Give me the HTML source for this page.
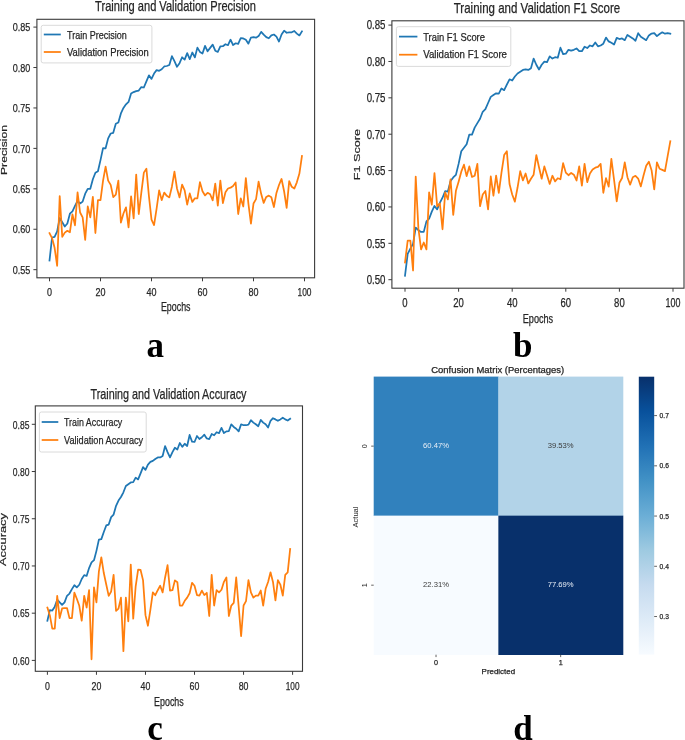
<!DOCTYPE html>
<html><head><meta charset="utf-8"><style>
html,body{margin:0;padding:0;background:#fff;}
body{width:685px;height:740px;overflow:hidden;font-family:"Liberation Sans", sans-serif;}
svg{display:block;filter:blur(0.3px);}
</style></head><body>
<svg width="685" height="740" viewBox="0 0 685 740" font-family='"Liberation Sans", sans-serif'>
<rect width="685" height="740" fill="#fff"/>
<polyline points="49.50,260.54 52.05,237.50 54.60,236.85 57.15,231.35 59.70,218.01 62.25,222.30 64.80,226.50 67.35,223.51 69.90,213.72 72.45,211.30 75.00,205.88 77.55,201.03 80.10,203.46 82.65,201.60 85.20,193.67 87.75,188.82 90.30,188.82 92.85,179.28 95.40,172.73 97.95,171.27 100.50,160.11 103.05,148.07 105.60,148.31 108.15,138.36 110.70,133.51 113.25,132.86 115.80,123.73 118.35,122.51 120.90,113.46 123.45,107.96 126.00,104.32 128.55,101.90 131.10,93.57 133.65,92.11 136.20,91.14 138.75,90.58 141.30,87.10 143.85,87.50 146.40,81.36 148.95,75.29 151.50,78.93 154.05,73.51 156.60,70.12 159.15,70.85 161.70,69.23 164.25,66.48 166.80,65.99 169.35,65.02 171.90,56.21 174.45,61.06 177.00,66.80 179.55,63.16 182.10,57.26 184.65,59.69 187.20,53.14 189.75,59.20 192.30,52.49 194.85,57.42 197.40,47.64 199.95,51.92 202.50,53.46 205.05,45.86 207.60,51.28 210.15,47.88 212.70,44.65 215.25,50.71 217.80,51.92 220.35,46.43 222.90,46.18 225.45,44.24 228.00,45.21 230.55,39.71 233.10,45.05 235.65,43.27 238.20,43.84 240.75,38.02 243.30,38.42 245.85,39.80 248.40,43.68 250.95,37.53 253.50,37.13 256.05,37.69 258.60,36.08 261.15,31.87 263.70,34.70 266.25,37.13 268.80,38.26 271.35,35.43 273.90,34.54 276.45,36.64 279.00,41.57 281.55,34.54 284.10,30.66 286.65,32.76 289.20,32.28 291.75,32.28 294.30,30.98 296.85,33.65 299.40,35.43 301.95,31.39" fill="none" stroke="#1f77b4" stroke-width="1.75" stroke-linejoin="round" stroke-linecap="square"/>
<polyline points="49.50,233.21 52.05,238.06 54.60,247.77 57.15,265.80 59.70,196.10 62.25,236.85 64.80,232.65 67.35,230.79 69.90,232.24 72.45,214.37 75.00,225.29 77.55,192.46 80.10,212.51 82.65,217.44 85.20,239.92 87.75,206.45 90.30,217.28 92.85,196.91 95.40,233.05 97.95,200.06 100.50,200.06 103.05,180.65 105.60,166.66 108.15,180.65 110.70,184.86 113.25,197.07 115.80,194.64 118.35,180.65 120.90,222.62 123.45,213.48 126.00,207.42 128.55,227.47 131.10,196.42 133.65,218.33 136.20,174.51 138.75,214.05 141.30,192.78 143.85,172.65 146.40,168.69 148.95,196.42 151.50,219.55 154.05,225.05 156.60,208.63 159.15,190.36 161.70,200.14 164.25,192.54 166.80,195.85 169.35,197.39 171.90,186.72 174.45,171.52 177.00,188.50 179.55,197.39 182.10,184.62 184.65,190.36 187.20,204.67 189.75,193.43 192.30,201.92 194.85,198.28 197.40,198.28 199.95,182.11 202.50,191.33 205.05,195.45 207.60,192.78 210.15,194.24 212.70,200.30 215.25,183.64 217.80,205.56 220.35,180.65 222.90,203.13 225.45,192.22 228.00,188.50 230.55,187.69 233.10,185.99 235.65,182.51 238.20,214.05 240.75,198.28 243.30,206.53 245.85,178.07 248.40,203.54 250.95,223.67 253.50,203.54 256.05,199.17 258.60,181.62 261.15,193.83 263.70,202.89 266.25,196.91 268.80,195.61 271.35,197.31 273.90,207.01 276.45,192.94 279.00,185.02 281.55,178.96 284.10,191.25 286.65,207.90 289.20,181.06 291.75,186.80 294.30,188.58 296.85,182.35 299.40,173.62 301.95,156.07" fill="none" stroke="#ff7f0e" stroke-width="1.75" stroke-linejoin="round" stroke-linecap="square"/>
<rect x="41.2" y="25.3" width="110.70" height="37.60" rx="2" ry="2" fill="#fff" fill-opacity="0.8" stroke="#d6d6d6" stroke-width="0.9"/>
<line x1="43.8" y1="34.5" x2="60.8" y2="34.5" stroke="#1f77b4" stroke-width="1.75"/>
<line x1="43.8" y1="52.0" x2="60.8" y2="52.0" stroke="#ff7f0e" stroke-width="1.75"/>
<text x="67.00" y="38.90" font-size="11.6" text-anchor="start" fill="#262626" stroke="#262626" stroke-width="0.25" textLength="59.80" lengthAdjust="spacingAndGlyphs">Train Precision</text>
<text x="67.00" y="55.90" font-size="11.6" text-anchor="start" fill="#262626" stroke="#262626" stroke-width="0.25" textLength="81.80" lengthAdjust="spacingAndGlyphs">Validation Precision</text>
<rect x="36.9" y="19.3" width="277.70" height="258.50" fill="none" stroke="#3a3a3a" stroke-width="1.1"/>
<line x1="33.40" y1="269.68" x2="36.9" y2="269.68" stroke="#3a3a3a" stroke-width="1"/>
<text x="30.40" y="273.88" font-size="11.8" text-anchor="end" fill="#262626" stroke="#262626" stroke-width="0.25" textLength="17.60" lengthAdjust="spacingAndGlyphs">0.55</text>
<line x1="33.40" y1="229.25" x2="36.9" y2="229.25" stroke="#3a3a3a" stroke-width="1"/>
<text x="30.40" y="233.45" font-size="11.8" text-anchor="end" fill="#262626" stroke="#262626" stroke-width="0.25" textLength="17.60" lengthAdjust="spacingAndGlyphs">0.60</text>
<line x1="33.40" y1="188.82" x2="36.9" y2="188.82" stroke="#3a3a3a" stroke-width="1"/>
<text x="30.40" y="193.02" font-size="11.8" text-anchor="end" fill="#262626" stroke="#262626" stroke-width="0.25" textLength="17.60" lengthAdjust="spacingAndGlyphs">0.65</text>
<line x1="33.40" y1="148.39" x2="36.9" y2="148.39" stroke="#3a3a3a" stroke-width="1"/>
<text x="30.40" y="152.59" font-size="11.8" text-anchor="end" fill="#262626" stroke="#262626" stroke-width="0.25" textLength="17.60" lengthAdjust="spacingAndGlyphs">0.70</text>
<line x1="33.40" y1="107.96" x2="36.9" y2="107.96" stroke="#3a3a3a" stroke-width="1"/>
<text x="30.40" y="112.16" font-size="11.8" text-anchor="end" fill="#262626" stroke="#262626" stroke-width="0.25" textLength="17.60" lengthAdjust="spacingAndGlyphs">0.75</text>
<line x1="33.40" y1="67.53" x2="36.9" y2="67.53" stroke="#3a3a3a" stroke-width="1"/>
<text x="30.40" y="71.73" font-size="11.8" text-anchor="end" fill="#262626" stroke="#262626" stroke-width="0.25" textLength="17.60" lengthAdjust="spacingAndGlyphs">0.80</text>
<line x1="33.40" y1="27.10" x2="36.9" y2="27.10" stroke="#3a3a3a" stroke-width="1"/>
<text x="30.40" y="31.30" font-size="11.8" text-anchor="end" fill="#262626" stroke="#262626" stroke-width="0.25" textLength="17.60" lengthAdjust="spacingAndGlyphs">0.85</text>
<line x1="49.50" y1="277.8" x2="49.50" y2="281.30" stroke="#3a3a3a" stroke-width="1"/>
<text x="49.50" y="295.60" font-size="11.8" text-anchor="middle" fill="#262626" stroke="#262626" stroke-width="0.25" textLength="5.00" lengthAdjust="spacingAndGlyphs">0</text>
<line x1="100.50" y1="277.8" x2="100.50" y2="281.30" stroke="#3a3a3a" stroke-width="1"/>
<text x="100.50" y="295.60" font-size="11.8" text-anchor="middle" fill="#262626" stroke="#262626" stroke-width="0.25" textLength="10.00" lengthAdjust="spacingAndGlyphs">20</text>
<line x1="151.50" y1="277.8" x2="151.50" y2="281.30" stroke="#3a3a3a" stroke-width="1"/>
<text x="151.50" y="295.60" font-size="11.8" text-anchor="middle" fill="#262626" stroke="#262626" stroke-width="0.25" textLength="10.00" lengthAdjust="spacingAndGlyphs">40</text>
<line x1="202.50" y1="277.8" x2="202.50" y2="281.30" stroke="#3a3a3a" stroke-width="1"/>
<text x="202.50" y="295.60" font-size="11.8" text-anchor="middle" fill="#262626" stroke="#262626" stroke-width="0.25" textLength="10.00" lengthAdjust="spacingAndGlyphs">60</text>
<line x1="253.50" y1="277.8" x2="253.50" y2="281.30" stroke="#3a3a3a" stroke-width="1"/>
<text x="253.50" y="295.60" font-size="11.8" text-anchor="middle" fill="#262626" stroke="#262626" stroke-width="0.25" textLength="10.00" lengthAdjust="spacingAndGlyphs">80</text>
<line x1="304.50" y1="277.8" x2="304.50" y2="281.30" stroke="#3a3a3a" stroke-width="1"/>
<text x="304.50" y="295.60" font-size="11.8" text-anchor="middle" fill="#262626" stroke="#262626" stroke-width="0.25" textLength="14.00" lengthAdjust="spacingAndGlyphs">100</text>
<text x="175.75" y="311.20" font-size="12" text-anchor="middle" fill="#262626" stroke="#262626" stroke-width="0.25" textLength="29.60" lengthAdjust="spacingAndGlyphs">Epochs</text>
<g transform="translate(7.00,150.00) scale(0.72,1) rotate(-90)"><text x="0" y="0" font-size="12" text-anchor="middle" fill="#262626" stroke="#262626" stroke-width="0.25" textLength="50.00" lengthAdjust="spacingAndGlyphs">Precision</text></g>
<text x="175.50" y="11.40" font-size="14.5" text-anchor="middle" fill="#262626" stroke="#262626" stroke-width="0.25" textLength="160.80" lengthAdjust="spacingAndGlyphs">Training and Validation Precision</text>
<polyline points="405.00,275.76 407.68,253.79 410.36,248.56 413.04,243.83 415.72,227.54 418.40,230.15 421.08,231.90 423.76,231.90 426.44,221.35 429.12,218.73 431.80,211.68 434.48,205.93 437.16,209.42 439.84,202.95 442.52,197.71 445.20,191.17 447.88,191.53 450.56,180.98 453.24,177.49 455.92,174.87 458.60,163.89 461.28,151.23 463.96,147.74 466.64,144.25 469.32,134.57 472.00,134.57 474.68,127.59 477.36,123.15 480.04,118.79 482.72,111.81 485.40,109.11 488.08,103.00 490.76,96.89 493.44,95.08 496.12,93.33 498.80,93.69 501.48,88.46 504.16,90.20 506.84,84.60 509.52,79.29 512.20,80.53 514.88,76.53 517.56,73.54 520.24,71.80 522.92,69.98 525.60,69.47 528.28,69.98 530.96,68.23 533.64,58.56 536.32,64.74 539.00,69.47 541.68,64.74 544.36,61.62 547.04,62.12 549.72,56.31 552.40,58.56 555.08,57.18 557.76,57.76 560.44,47.72 563.12,54.20 565.80,53.69 568.48,49.83 571.16,50.70 573.84,49.83 576.52,48.45 579.20,51.21 581.88,51.21 584.56,46.70 587.24,48.09 589.92,45.47 592.60,46.34 595.28,42.48 597.96,46.34 600.64,45.47 603.32,43.72 606.00,37.54 608.68,41.39 611.36,42.85 614.04,44.59 616.72,37.90 619.40,39.07 622.08,38.41 624.76,40.16 627.44,34.92 630.12,36.67 632.80,38.41 635.48,40.74 638.16,33.17 640.84,36.67 643.52,38.41 646.20,40.16 648.88,35.43 651.56,33.54 654.24,33.17 656.92,36.16 659.60,34.05 662.28,32.30 664.96,33.68 667.64,33.17 670.32,33.68" fill="none" stroke="#1f77b4" stroke-width="1.75" stroke-linejoin="round" stroke-linecap="square"/>
<polyline points="405.00,262.60 407.68,240.70 410.36,240.70 413.04,270.52 415.72,176.62 418.40,228.41 421.08,249.43 423.76,242.45 426.44,249.43 429.12,192.40 431.80,204.70 434.48,173.13 437.16,206.44 439.84,203.46 442.52,229.28 445.20,192.40 447.88,199.46 450.56,179.31 453.24,214.95 455.92,190.80 458.60,181.64 461.28,171.67 463.96,164.69 466.64,176.11 469.32,166.43 472.00,176.98 474.68,175.74 477.36,163.82 480.04,206.22 482.72,194.51 485.40,191.02 488.08,209.42 490.76,176.47 493.44,195.75 496.12,175.74 498.80,192.77 501.48,172.62 504.16,155.01 506.84,151.16 509.52,183.96 512.20,194.51 514.88,201.57 517.56,187.53 520.24,171.16 522.92,180.47 525.60,173.49 528.28,183.45 530.96,178.73 533.64,174.73 536.32,155.01 539.00,167.31 541.68,178.73 544.36,166.43 547.04,175.24 549.72,183.96 552.40,175.74 555.08,181.35 557.76,178.22 560.44,179.24 563.12,163.23 565.80,172.62 568.48,175.24 571.16,172.91 573.84,174.73 576.52,180.47 579.20,166.43 581.88,185.71 584.56,163.82 587.24,182.22 589.92,173.49 592.60,169.42 595.28,167.67 597.96,166.94 600.64,163.82 603.32,192.77 606.00,178.22 608.68,186.58 611.36,158.87 614.04,179.60 616.72,201.28 619.40,182.80 622.08,178.00 624.76,162.29 627.44,177.20 630.12,184.62 632.80,177.20 635.48,175.82 638.16,178.58 640.84,186.36 643.52,175.45 646.20,165.78 648.88,161.78 651.56,170.22 654.24,189.49 656.92,162.29 659.60,168.76 662.28,169.85 664.96,171.09 667.64,156.18 670.32,141.27" fill="none" stroke="#ff7f0e" stroke-width="1.75" stroke-linejoin="round" stroke-linecap="square"/>
<rect x="396.4" y="26.7" width="114.40" height="39.70" rx="2" ry="2" fill="#fff" fill-opacity="0.8" stroke="#d6d6d6" stroke-width="0.9"/>
<line x1="399.0" y1="36.6" x2="417.4" y2="36.6" stroke="#1f77b4" stroke-width="1.75"/>
<line x1="399.0" y1="54.7" x2="417.4" y2="54.7" stroke="#ff7f0e" stroke-width="1.75"/>
<text x="423.20" y="41.00" font-size="11.8" text-anchor="start" fill="#262626" stroke="#262626" stroke-width="0.25" textLength="61.80" lengthAdjust="spacingAndGlyphs">Train F1 Score</text>
<text x="423.20" y="58.20" font-size="11.8" text-anchor="start" fill="#262626" stroke="#262626" stroke-width="0.25" textLength="83.80" lengthAdjust="spacingAndGlyphs">Validation F1 Score</text>
<rect x="391.9" y="20.8" width="292.10" height="267.40" fill="none" stroke="#3a3a3a" stroke-width="1.1"/>
<line x1="388.40" y1="279.69" x2="391.9" y2="279.69" stroke="#3a3a3a" stroke-width="1"/>
<text x="385.50" y="283.99" font-size="12" text-anchor="end" fill="#262626" stroke="#262626" stroke-width="0.25" textLength="18.80" lengthAdjust="spacingAndGlyphs">0.50</text>
<line x1="388.40" y1="243.32" x2="391.9" y2="243.32" stroke="#3a3a3a" stroke-width="1"/>
<text x="385.50" y="247.62" font-size="12" text-anchor="end" fill="#262626" stroke="#262626" stroke-width="0.25" textLength="18.80" lengthAdjust="spacingAndGlyphs">0.55</text>
<line x1="388.40" y1="206.95" x2="391.9" y2="206.95" stroke="#3a3a3a" stroke-width="1"/>
<text x="385.50" y="211.25" font-size="12" text-anchor="end" fill="#262626" stroke="#262626" stroke-width="0.25" textLength="18.80" lengthAdjust="spacingAndGlyphs">0.60</text>
<line x1="388.40" y1="170.58" x2="391.9" y2="170.58" stroke="#3a3a3a" stroke-width="1"/>
<text x="385.50" y="174.88" font-size="12" text-anchor="end" fill="#262626" stroke="#262626" stroke-width="0.25" textLength="18.80" lengthAdjust="spacingAndGlyphs">0.65</text>
<line x1="388.40" y1="134.21" x2="391.9" y2="134.21" stroke="#3a3a3a" stroke-width="1"/>
<text x="385.50" y="138.51" font-size="12" text-anchor="end" fill="#262626" stroke="#262626" stroke-width="0.25" textLength="18.80" lengthAdjust="spacingAndGlyphs">0.70</text>
<line x1="388.40" y1="97.84" x2="391.9" y2="97.84" stroke="#3a3a3a" stroke-width="1"/>
<text x="385.50" y="102.14" font-size="12" text-anchor="end" fill="#262626" stroke="#262626" stroke-width="0.25" textLength="18.80" lengthAdjust="spacingAndGlyphs">0.75</text>
<line x1="388.40" y1="61.47" x2="391.9" y2="61.47" stroke="#3a3a3a" stroke-width="1"/>
<text x="385.50" y="65.77" font-size="12" text-anchor="end" fill="#262626" stroke="#262626" stroke-width="0.25" textLength="18.80" lengthAdjust="spacingAndGlyphs">0.80</text>
<line x1="388.40" y1="25.10" x2="391.9" y2="25.10" stroke="#3a3a3a" stroke-width="1"/>
<text x="385.50" y="29.40" font-size="12" text-anchor="end" fill="#262626" stroke="#262626" stroke-width="0.25" textLength="18.80" lengthAdjust="spacingAndGlyphs">0.85</text>
<line x1="405.00" y1="288.2" x2="405.00" y2="291.70" stroke="#3a3a3a" stroke-width="1"/>
<text x="405.00" y="306.50" font-size="12" text-anchor="middle" fill="#262626" stroke="#262626" stroke-width="0.25" textLength="5.30" lengthAdjust="spacingAndGlyphs">0</text>
<line x1="458.60" y1="288.2" x2="458.60" y2="291.70" stroke="#3a3a3a" stroke-width="1"/>
<text x="458.60" y="306.50" font-size="12" text-anchor="middle" fill="#262626" stroke="#262626" stroke-width="0.25" textLength="10.60" lengthAdjust="spacingAndGlyphs">20</text>
<line x1="512.20" y1="288.2" x2="512.20" y2="291.70" stroke="#3a3a3a" stroke-width="1"/>
<text x="512.20" y="306.50" font-size="12" text-anchor="middle" fill="#262626" stroke="#262626" stroke-width="0.25" textLength="10.60" lengthAdjust="spacingAndGlyphs">40</text>
<line x1="565.80" y1="288.2" x2="565.80" y2="291.70" stroke="#3a3a3a" stroke-width="1"/>
<text x="565.80" y="306.50" font-size="12" text-anchor="middle" fill="#262626" stroke="#262626" stroke-width="0.25" textLength="10.60" lengthAdjust="spacingAndGlyphs">60</text>
<line x1="619.40" y1="288.2" x2="619.40" y2="291.70" stroke="#3a3a3a" stroke-width="1"/>
<text x="619.40" y="306.50" font-size="12" text-anchor="middle" fill="#262626" stroke="#262626" stroke-width="0.25" textLength="10.60" lengthAdjust="spacingAndGlyphs">80</text>
<line x1="673.00" y1="288.2" x2="673.00" y2="291.70" stroke="#3a3a3a" stroke-width="1"/>
<text x="673.00" y="306.50" font-size="12" text-anchor="middle" fill="#262626" stroke="#262626" stroke-width="0.25" textLength="14.84" lengthAdjust="spacingAndGlyphs">100</text>
<text x="537.95" y="323.10" font-size="12" text-anchor="middle" fill="#262626" stroke="#262626" stroke-width="0.25" textLength="30.40" lengthAdjust="spacingAndGlyphs">Epochs</text>
<g transform="translate(359.60,154.60) scale(0.72,1) rotate(-90)"><text x="0" y="0" font-size="12" text-anchor="middle" fill="#262626" stroke="#262626" stroke-width="0.25" textLength="51.40" lengthAdjust="spacingAndGlyphs">F1 Score</text></g>
<text x="537.00" y="13.10" font-size="14.6" text-anchor="middle" fill="#262626" stroke="#262626" stroke-width="0.25" textLength="166.50" lengthAdjust="spacingAndGlyphs">Training and Validation F1 Score</text>
<polyline points="47.40,620.74 49.85,610.16 52.30,610.54 54.76,606.66 57.21,599.68 59.66,602.32 62.11,604.87 64.56,602.32 67.02,595.80 69.47,593.54 71.92,589.10 74.37,585.23 76.82,587.40 79.28,584.75 81.73,578.99 84.18,575.12 86.63,575.97 89.08,568.04 91.54,562.47 93.99,560.20 96.44,550.85 98.89,539.61 101.34,539.14 103.80,532.06 106.25,525.45 108.70,524.60 111.15,517.13 113.60,514.58 116.06,505.80 118.51,500.51 120.96,497.02 123.41,492.30 125.86,485.97 128.32,484.17 130.77,482.48 133.22,482.10 135.67,477.66 138.12,479.45 140.58,473.31 143.03,467.18 145.48,469.82 147.93,464.53 150.38,461.89 152.84,460.85 155.29,458.96 157.74,457.45 160.19,457.45 162.64,456.03 165.10,446.02 167.55,452.16 170.00,457.45 172.45,452.16 174.90,447.72 177.36,449.52 179.81,443.00 182.26,446.87 184.71,443.75 187.16,446.02 189.62,434.97 192.07,441.58 194.52,441.96 196.97,436.01 199.42,439.03 201.88,437.24 204.33,434.69 206.78,438.47 209.23,439.03 211.68,434.03 214.14,435.26 216.59,432.23 219.04,433.08 221.49,427.89 223.94,433.08 226.40,431.38 228.85,431.01 231.30,424.30 233.75,426.94 236.20,428.74 238.66,431.38 241.11,424.30 243.56,425.24 246.01,425.24 248.46,424.68 250.92,420.24 253.37,422.60 255.82,424.30 258.27,426.28 260.72,419.96 263.18,422.60 265.63,424.30 268.08,427.51 270.53,420.81 272.98,418.16 275.44,419.39 277.89,420.81 280.34,419.39 282.79,417.69 285.24,419.39 287.70,420.52 290.15,418.73" fill="none" stroke="#1f77b4" stroke-width="1.75" stroke-linejoin="round" stroke-linecap="square"/>
<polyline points="47.40,607.51 49.85,615.45 52.30,628.57 54.76,628.57 57.21,595.80 59.66,618.09 62.11,608.46 64.56,608.08 67.02,608.08 69.47,618.09 71.92,618.09 74.37,592.59 76.82,598.73 79.28,605.81 81.73,620.74 84.18,595.80 86.63,607.51 89.08,590.04 91.54,659.27 93.99,587.40 96.44,602.32 98.89,571.34 101.34,557.27 103.80,573.04 106.25,584.47 108.70,595.90 111.15,591.46 113.60,574.84 116.06,610.82 118.51,608.55 120.96,597.60 123.41,651.14 125.86,597.60 128.32,621.30 130.77,564.64 133.22,618.66 135.67,586.26 138.12,569.55 140.58,569.93 143.03,580.13 145.48,615.16 147.93,625.74 150.38,609.87 152.84,592.40 155.29,595.24 157.74,590.23 160.19,585.70 162.64,592.40 165.10,577.48 167.55,565.20 170.00,590.61 172.45,590.23 174.90,580.41 177.36,582.20 179.81,605.53 182.26,605.53 184.71,600.81 187.16,597.60 189.62,593.25 192.07,582.77 194.52,585.70 196.97,595.05 199.42,595.52 201.88,590.61 204.33,595.05 206.78,592.78 209.23,616.01 211.68,574.84 214.14,605.53 216.59,590.23 219.04,592.40 221.49,589.76 223.94,581.83 226.40,577.48 228.85,616.01 231.30,605.53 233.75,602.89 236.20,577.48 238.66,606.38 241.11,636.22 243.56,605.53 246.01,601.19 248.46,580.13 250.92,592.40 253.37,597.69 255.82,595.61 258.27,595.61 260.72,590.51 263.18,605.62 265.63,588.81 268.08,581.92 270.53,572.29 272.98,581.92 275.44,600.34 277.89,580.13 280.34,584.56 282.79,595.61 285.24,574.84 287.70,572.29 290.15,548.96" fill="none" stroke="#ff7f0e" stroke-width="1.75" stroke-linejoin="round" stroke-linecap="square"/>
<rect x="39.4" y="412.0" width="106.80" height="40.00" rx="2" ry="2" fill="#fff" fill-opacity="0.8" stroke="#d6d6d6" stroke-width="0.9"/>
<line x1="41.7" y1="422.0" x2="58.3" y2="422.0" stroke="#1f77b4" stroke-width="1.75"/>
<line x1="41.7" y1="440.0" x2="58.3" y2="440.0" stroke="#ff7f0e" stroke-width="1.75"/>
<text x="64.00" y="425.70" font-size="11.8" text-anchor="start" fill="#262626" stroke="#262626" stroke-width="0.25" textLength="58.30" lengthAdjust="spacingAndGlyphs">Train Accuracy</text>
<text x="64.00" y="443.50" font-size="11.8" text-anchor="start" fill="#262626" stroke="#262626" stroke-width="0.25" textLength="79.20" lengthAdjust="spacingAndGlyphs">Validation Accuracy</text>
<rect x="35.3" y="405.9" width="267.20" height="265.40" fill="none" stroke="#3a3a3a" stroke-width="1.1"/>
<line x1="31.80" y1="660.40" x2="35.3" y2="660.40" stroke="#3a3a3a" stroke-width="1"/>
<text x="29.40" y="664.70" font-size="11.8" text-anchor="end" fill="#262626" stroke="#262626" stroke-width="0.25" textLength="16.60" lengthAdjust="spacingAndGlyphs">0.60</text>
<line x1="31.80" y1="613.18" x2="35.3" y2="613.18" stroke="#3a3a3a" stroke-width="1"/>
<text x="29.40" y="617.48" font-size="11.8" text-anchor="end" fill="#262626" stroke="#262626" stroke-width="0.25" textLength="16.60" lengthAdjust="spacingAndGlyphs">0.65</text>
<line x1="31.80" y1="565.96" x2="35.3" y2="565.96" stroke="#3a3a3a" stroke-width="1"/>
<text x="29.40" y="570.26" font-size="11.8" text-anchor="end" fill="#262626" stroke="#262626" stroke-width="0.25" textLength="16.60" lengthAdjust="spacingAndGlyphs">0.70</text>
<line x1="31.80" y1="518.74" x2="35.3" y2="518.74" stroke="#3a3a3a" stroke-width="1"/>
<text x="29.40" y="523.04" font-size="11.8" text-anchor="end" fill="#262626" stroke="#262626" stroke-width="0.25" textLength="16.60" lengthAdjust="spacingAndGlyphs">0.75</text>
<line x1="31.80" y1="471.52" x2="35.3" y2="471.52" stroke="#3a3a3a" stroke-width="1"/>
<text x="29.40" y="475.82" font-size="11.8" text-anchor="end" fill="#262626" stroke="#262626" stroke-width="0.25" textLength="16.60" lengthAdjust="spacingAndGlyphs">0.80</text>
<line x1="31.80" y1="424.30" x2="35.3" y2="424.30" stroke="#3a3a3a" stroke-width="1"/>
<text x="29.40" y="428.60" font-size="11.8" text-anchor="end" fill="#262626" stroke="#262626" stroke-width="0.25" textLength="16.60" lengthAdjust="spacingAndGlyphs">0.85</text>
<line x1="47.40" y1="671.3" x2="47.40" y2="674.80" stroke="#3a3a3a" stroke-width="1"/>
<text x="47.40" y="689.50" font-size="11.8" text-anchor="middle" fill="#262626" stroke="#262626" stroke-width="0.25" textLength="4.90" lengthAdjust="spacingAndGlyphs">0</text>
<line x1="96.44" y1="671.3" x2="96.44" y2="674.80" stroke="#3a3a3a" stroke-width="1"/>
<text x="96.44" y="689.50" font-size="11.8" text-anchor="middle" fill="#262626" stroke="#262626" stroke-width="0.25" textLength="9.80" lengthAdjust="spacingAndGlyphs">20</text>
<line x1="145.48" y1="671.3" x2="145.48" y2="674.80" stroke="#3a3a3a" stroke-width="1"/>
<text x="145.48" y="689.50" font-size="11.8" text-anchor="middle" fill="#262626" stroke="#262626" stroke-width="0.25" textLength="9.80" lengthAdjust="spacingAndGlyphs">40</text>
<line x1="194.52" y1="671.3" x2="194.52" y2="674.80" stroke="#3a3a3a" stroke-width="1"/>
<text x="194.52" y="689.50" font-size="11.8" text-anchor="middle" fill="#262626" stroke="#262626" stroke-width="0.25" textLength="9.80" lengthAdjust="spacingAndGlyphs">60</text>
<line x1="243.56" y1="671.3" x2="243.56" y2="674.80" stroke="#3a3a3a" stroke-width="1"/>
<text x="243.56" y="689.50" font-size="11.8" text-anchor="middle" fill="#262626" stroke="#262626" stroke-width="0.25" textLength="9.80" lengthAdjust="spacingAndGlyphs">80</text>
<line x1="292.60" y1="671.3" x2="292.60" y2="674.80" stroke="#3a3a3a" stroke-width="1"/>
<text x="292.60" y="689.50" font-size="11.8" text-anchor="middle" fill="#262626" stroke="#262626" stroke-width="0.25" textLength="13.72" lengthAdjust="spacingAndGlyphs">100</text>
<text x="168.90" y="705.90" font-size="12" text-anchor="middle" fill="#262626" stroke="#262626" stroke-width="0.25" textLength="29.60" lengthAdjust="spacingAndGlyphs">Epochs</text>
<g transform="translate(5.80,539.50) scale(0.72,1) rotate(-90)"><text x="0" y="0" font-size="12" text-anchor="middle" fill="#262626" stroke="#262626" stroke-width="0.25" textLength="53.00" lengthAdjust="spacingAndGlyphs">Accuracy</text></g>
<text x="168.50" y="398.60" font-size="14.8" text-anchor="middle" fill="#262626" stroke="#262626" stroke-width="0.25" textLength="156.00" lengthAdjust="spacingAndGlyphs">Training and Validation Accuracy</text>
<rect x="373.70" y="376.60" width="124.95" height="139.35" fill="#3181bd"/>
<rect x="498.35" y="376.60" width="124.95" height="139.35" fill="#b2d3e8"/>
<rect x="373.70" y="515.65" width="124.95" height="139.35" fill="#f7fbff"/>
<rect x="498.35" y="515.65" width="124.95" height="139.35" fill="#08306b"/>
<text x="436.02" y="448.23" font-size="7.2" text-anchor="middle" fill="#e8eef6" textLength="26" lengthAdjust="spacingAndGlyphs">60.47%</text>
<text x="560.67" y="448.23" font-size="7.2" text-anchor="middle" fill="#3a3a3a" textLength="26" lengthAdjust="spacingAndGlyphs">39.53%</text>
<text x="436.02" y="587.28" font-size="7.2" text-anchor="middle" fill="#3a3a3a" textLength="26" lengthAdjust="spacingAndGlyphs">22.31%</text>
<text x="560.67" y="587.28" font-size="7.2" text-anchor="middle" fill="#e8eef6" textLength="26" lengthAdjust="spacingAndGlyphs">77.69%</text>
<text x="497.75" y="372.90" font-size="8.4" text-anchor="middle" fill="#262626" stroke="#262626" stroke-width="0.25" textLength="133.00" lengthAdjust="spacingAndGlyphs">Confusion Matrix (Percentages)</text>
<line x1="436.02" y1="654.7" x2="436.02" y2="657.10" stroke="#3a3a3a" stroke-width="0.8"/>
<text x="436.02" y="664.70" font-size="7.2" text-anchor="middle" fill="#262626" stroke="#262626" stroke-width="0.25">0</text>
<line x1="560.67" y1="654.7" x2="560.67" y2="657.10" stroke="#3a3a3a" stroke-width="0.8"/>
<text x="560.67" y="664.70" font-size="7.2" text-anchor="middle" fill="#262626" stroke="#262626" stroke-width="0.25">1</text>
<text x="498.35" y="673.60" font-size="7.2" text-anchor="middle" fill="#262626" stroke="#262626" stroke-width="0.25" textLength="33.50" lengthAdjust="spacingAndGlyphs">Predicted</text>
<line x1="371.20" y1="446.13" x2="373.7" y2="446.13" stroke="#3a3a3a" stroke-width="0.8"/>
<g transform="translate(367.20,446.13) rotate(-90)"><text x="0" y="0" font-size="7.2" text-anchor="middle" fill="#262626">0</text></g>
<line x1="371.20" y1="585.18" x2="373.7" y2="585.18" stroke="#3a3a3a" stroke-width="0.8"/>
<g transform="translate(367.20,585.18) rotate(-90)"><text x="0" y="0" font-size="7.2" text-anchor="middle" fill="#262626">1</text></g>
<g transform="translate(357.60,517.00) rotate(-90)"><text x="0" y="0" font-size="7.2" text-anchor="middle" fill="#262626" textLength="21" lengthAdjust="spacingAndGlyphs">Actual</text></g>
<defs><linearGradient id="cb" x1="0" y1="1" x2="0" y2="0"><stop offset="0.0000" stop-color="#f7fbff"/><stop offset="0.1250" stop-color="#deebf7"/><stop offset="0.2500" stop-color="#c6dbef"/><stop offset="0.3750" stop-color="#9ecae1"/><stop offset="0.5000" stop-color="#6baed6"/><stop offset="0.6250" stop-color="#4292c6"/><stop offset="0.7500" stop-color="#2171b5"/><stop offset="0.8750" stop-color="#08519c"/><stop offset="1.0000" stop-color="#08306b"/></linearGradient></defs>
<rect x="638.8" y="376.7" width="15.40" height="277.90" fill="url(#cb)"/>
<line x1="654.2" y1="616.52" x2="657.00" y2="616.52" stroke="#3a3a3a" stroke-width="0.8"/>
<text x="659.60" y="619.12" font-size="7.2" text-anchor="start" fill="#262626" stroke="#262626" stroke-width="0.25" textLength="9.30" lengthAdjust="spacingAndGlyphs">0.3</text>
<line x1="654.2" y1="566.29" x2="657.00" y2="566.29" stroke="#3a3a3a" stroke-width="0.8"/>
<text x="659.60" y="568.89" font-size="7.2" text-anchor="start" fill="#262626" stroke="#262626" stroke-width="0.25" textLength="9.30" lengthAdjust="spacingAndGlyphs">0.4</text>
<line x1="654.2" y1="516.06" x2="657.00" y2="516.06" stroke="#3a3a3a" stroke-width="0.8"/>
<text x="659.60" y="518.66" font-size="7.2" text-anchor="start" fill="#262626" stroke="#262626" stroke-width="0.25" textLength="9.30" lengthAdjust="spacingAndGlyphs">0.5</text>
<line x1="654.2" y1="465.83" x2="657.00" y2="465.83" stroke="#3a3a3a" stroke-width="0.8"/>
<text x="659.60" y="468.43" font-size="7.2" text-anchor="start" fill="#262626" stroke="#262626" stroke-width="0.25" textLength="9.30" lengthAdjust="spacingAndGlyphs">0.6</text>
<line x1="654.2" y1="415.60" x2="657.00" y2="415.60" stroke="#3a3a3a" stroke-width="0.8"/>
<text x="659.60" y="418.20" font-size="7.2" text-anchor="start" fill="#262626" stroke="#262626" stroke-width="0.25" textLength="9.30" lengthAdjust="spacingAndGlyphs">0.7</text>
<text x="155.3" y="356.9" font-family='"Liberation Serif", serif' font-weight="bold" font-size="35" text-anchor="middle" fill="#000">a</text>
<text x="522.8" y="356.9" font-family='"Liberation Serif", serif' font-weight="bold" font-size="35" text-anchor="middle" fill="#000">b</text>
<text x="155.0" y="740.0" font-family='"Liberation Serif", serif' font-weight="bold" font-size="35" text-anchor="middle" fill="#000">c</text>
<text x="523.0" y="739.5" font-family='"Liberation Serif", serif' font-weight="bold" font-size="35" text-anchor="middle" fill="#000">d</text>
</svg>
</body></html>
